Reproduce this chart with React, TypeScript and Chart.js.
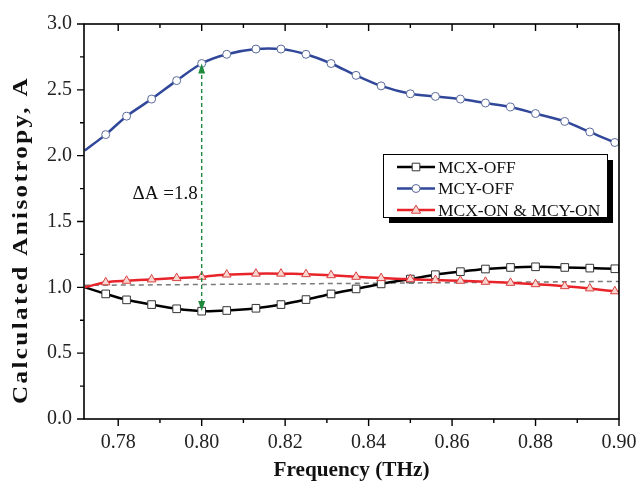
import React, { useEffect, useRef } from "react";
import { Chart, registerables } from "chart.js";

Chart.register(...registerables);

// ---- data ----
const freq = [0.772, 0.777, 0.782, 0.788, 0.794, 0.800, 0.806, 0.813, 0.819, 0.825, 0.831, 0.837, 0.843, 0.850, 0.856, 0.862, 0.868, 0.874, 0.880, 0.887, 0.893, 0.899, 0.900];
const mcxOff = [1.0, 0.95, 0.905, 0.869, 0.837, 0.819, 0.824, 0.841, 0.869, 0.907, 0.95, 0.988, 1.026, 1.063, 1.096, 1.119, 1.139, 1.151, 1.156, 1.151, 1.146, 1.141, 1.14];
const mcyOff = [2.04, 2.16, 2.3, 2.43, 2.57, 2.7, 2.77, 2.81, 2.81, 2.77, 2.7, 2.61, 2.53, 2.47, 2.45, 2.43, 2.4, 2.37, 2.32, 2.26, 2.18, 2.1, 2.09];
const mcOn = [1.0, 1.038, 1.05, 1.06, 1.07, 1.08, 1.097, 1.104, 1.104, 1.1, 1.092, 1.08, 1.07, 1.062, 1.055, 1.05, 1.042, 1.034, 1.024, 1.009, 0.992, 0.97, 0.965];
const refFreq = [0.772, 0.9];
const refVal = [1.015, 1.045];
const seriesLabels = ["MCX-OFF", "MCY-OFF", "MCX-ON & MCY-ON"];
const xMajorTicks = [0.78, 0.8, 0.82, 0.84, 0.86, 0.88, 0.9];
const xMinorTicks = [0.79, 0.81, 0.83, 0.85, 0.87, 0.89];
const yMajorTicks = [0, 0.5, 1.0, 1.5, 2.0, 2.5, 3.0];
const yMinorTicks = [0.25, 0.75, 1.25, 1.75, 2.25, 2.75];
const arrowFreq = 0.8;
const arrowFrom = 0.82;
const arrowTo = 2.7;
const arrowLabel = "\u0394A =1.8";
const arrowLabelY = 1.71;

const X_MIN = 0.7718;
const X_MAX = 0.9;
const SERIF = "'Liberation Serif', 'Times New Roman', serif";

const BLACK = "#000000";
const BLUE = "#31479a";
const RED = "#e8242a";
const GREEN = "#1f8a3c";

function drawMarker(ctx: CanvasRenderingContext2D, style: string, x: number, y: number, stroke: string, fill: string) {
  ctx.save();
  ctx.lineWidth = 1;
  ctx.strokeStyle = stroke;
  ctx.fillStyle = fill;
  ctx.beginPath();
  if (style === "rect") {
    ctx.rect(x - 3.8, y - 3.8, 7.6, 7.6);
  } else if (style === "circle") {
    ctx.arc(x, y, 4, 0, Math.PI * 2);
  } else {
    ctx.moveTo(x, y - 5);
    ctx.lineTo(x + 4.6, y + 3.2);
    ctx.lineTo(x - 4.6, y + 3.2);
    ctx.closePath();
  }
  ctx.fill();
  ctx.stroke();
  ctx.restore();
}

function stretchedText(ctx: CanvasRenderingContext2D, text: string, x: number, y: number, targetWidth: number, rotate: boolean) {
  ctx.save();
  ctx.translate(x, y);
  if (rotate) ctx.rotate(-Math.PI / 2);
  const w = ctx.measureText(text).width;
  ctx.scale(targetWidth / w, 1);
  ctx.textAlign = "center";
  ctx.textBaseline = "middle";
  ctx.fillText(text, 0, 0);
  ctx.restore();
}

const framePlugin = {
  id: "frameAndDecor",
  afterDraw(chart: any) {
    const ctx: CanvasRenderingContext2D = chart.ctx;
    const { left, right, top, bottom } = chart.chartArea;
    const xs = chart.scales.x;
    const ys = chart.scales.y;
    ctx.save();
    // frame
    ctx.strokeStyle = "#000";
    ctx.lineWidth = 1.6;
    ctx.strokeRect(left, top, right - left, bottom - top);
    ctx.lineWidth = 1.4;
    ctx.beginPath();
    xMajorTicks.forEach((v) => {
      const px = xs.getPixelForValue(v);
      ctx.moveTo(px, bottom);
      ctx.lineTo(px, bottom + 7);
      ctx.moveTo(px, top);
      ctx.lineTo(px, top + 7);
    });
    xMinorTicks.forEach((v) => {
      const px = xs.getPixelForValue(v);
      ctx.moveTo(px, bottom);
      ctx.lineTo(px, bottom + 4);
      ctx.moveTo(px, top);
      ctx.lineTo(px, top + 4);
    });
    yMajorTicks.forEach((v) => {
      const py = ys.getPixelForValue(v);
      ctx.moveTo(left - 7, py);
      ctx.lineTo(left, py);
    });
    yMinorTicks.forEach((v) => {
      const py = ys.getPixelForValue(v);
      ctx.moveTo(left - 4, py);
      ctx.lineTo(left, py);
    });
    ctx.stroke();

    // axis titles
    ctx.fillStyle = "#111";
    ctx.font = `bold 21px ${SERIF}`;
    (ctx as any).letterSpacing = "2px";
    stretchedText(ctx, "Calculated Anisotropy, A", 22, 240, 328, true);
    (ctx as any).letterSpacing = "0px";
    ctx.font = `bold 20px ${SERIF}`;
    stretchedText(ctx, "Frequency (THz)", (left + right) / 2, 471, 156, false);

    // annotation arrow
    const ax = xs.getPixelForValue(arrowFreq);
    const y1 = ys.getPixelForValue(arrowFrom);
    const y2 = ys.getPixelForValue(arrowTo);
    ctx.strokeStyle = GREEN;
    ctx.fillStyle = GREEN;
    ctx.lineWidth = 1.4;
    ctx.setLineDash([4, 3]);
    ctx.beginPath();
    ctx.moveTo(ax, y1 - 8);
    ctx.lineTo(ax, y2 + 8);
    ctx.stroke();
    ctx.setLineDash([]);
    ctx.beginPath();
    ctx.moveTo(ax, y2);
    ctx.lineTo(ax + 3.5, y2 + 10);
    ctx.lineTo(ax - 3.5, y2 + 10);
    ctx.closePath();
    ctx.fill();
    ctx.beginPath();
    ctx.moveTo(ax, y1);
    ctx.lineTo(ax + 3.5, y1 - 10);
    ctx.lineTo(ax - 3.5, y1 - 10);
    ctx.closePath();
    ctx.fill();
    ctx.fillStyle = "#111";
    ctx.font = `19px ${SERIF}`;
    ctx.textAlign = "right";
    ctx.textBaseline = "middle";
    ctx.fillText(arrowLabel, ax - 4, ys.getPixelForValue(arrowLabelY));

    // legend
    const lx = 383, ly = 154, lw = 224, lh = 63;
    ctx.fillStyle = "#000";
    ctx.fillRect(lx + 6, ly + 6, lw, lh);
    ctx.fillStyle = "#fff";
    ctx.fillRect(lx, ly, lw, lh);
    ctx.strokeStyle = "#000";
    ctx.lineWidth = 1;
    ctx.strokeRect(lx + 0.5, ly + 0.5, lw, lh);
    const datasets = chart.data.datasets.slice(0, 3);
    datasets.forEach((ds: any, i: number) => {
      const cy = ly + 13 + i * 21.5;
      ctx.strokeStyle = ds.borderColor;
      ctx.lineWidth = 2.5;
      ctx.beginPath();
      ctx.moveTo(lx + 14, cy);
      ctx.lineTo(lx + 52, cy);
      ctx.stroke();
      drawMarker(ctx, ds.pointStyle, lx + 33, cy, ds.pointBorderColor, ds.pointBackgroundColor);
      ctx.fillStyle = "#111";
      ctx.font = `17.5px ${SERIF}`;
      ctx.textAlign = "left";
      ctx.textBaseline = "middle";
      ctx.fillText(ds.label, lx + 55, cy + 1);
    });
    ctx.restore();
  },
};

const radiusFn = (r: number) => (c: any) => (c.dataIndex === 0 || c.dataIndex === freq.length - 1 ? 0 : r);

export default function App() {
  const ref = useRef<HTMLCanvasElement | null>(null);
  useEffect(() => {
    if (!ref.current) return;
    const pts = (vals: number[]) => freq.map((f, i) => ({ x: f, y: vals[i] }));
    const chart = new Chart(ref.current, {
      type: "line",
      data: {
        datasets: [
          {
            label: seriesLabels[0],
            data: pts(mcxOff),
            borderColor: BLACK,
            borderWidth: 2.5,
            pointStyle: "rect",
            pointRadius: radiusFn(5.4),
            pointBackgroundColor: "#ffffff",
            pointBorderColor: "#333333",
            pointBorderWidth: 1,
            tension: 0.3,
            order: 1,
          },
          {
            label: seriesLabels[1],
            data: pts(mcyOff),
            borderColor: BLUE,
            borderWidth: 2.5,
            pointStyle: "circle",
            pointRadius: radiusFn(4),
            pointBackgroundColor: "#ffffff",
            pointBorderColor: "#5a6a9a",
            pointBorderWidth: 1,
            tension: 0.3,
            order: 2,
          },
          {
            label: seriesLabels[2],
            data: pts(mcOn),
            borderColor: RED,
            borderWidth: 2.5,
            pointStyle: "triangle",
            pointRadius: radiusFn(5),
            pointBackgroundColor: "#f8d6cf",
            pointBorderColor: "#d84040",
            pointBorderWidth: 1,
            tension: 0.3,
            order: 0,
          },
          {
            label: "ref",
            data: refFreq.map((f, i) => ({ x: f, y: refVal[i] })),
            borderColor: "#7a7a7a",
            borderWidth: 1.5,
            borderDash: [5, 4],
            pointRadius: 0,
            order: 3,
          },
        ],
      },
      options: {
        animation: false,
        responsive: false,
        maintainAspectRatio: false,
        layout: { padding: { top: 22, right: 19, left: 0, bottom: 0 } },
        plugins: { legend: { display: false }, tooltip: { enabled: false } },
        scales: {
          x: {
            type: "linear",
            min: X_MIN,
            max: X_MAX,
            afterFit: (s: any) => {
              s.height = 66;
              s.paddingLeft = 0;
              s.paddingRight = 0;
            },
            grid: { display: false, drawTicks: false },
            border: { display: false },
            ticks: {
              stepSize: 0.02,
              includeBounds: false,
              padding: 12,
              maxRotation: 0,
              autoSkip: false,
              color: "#222",
              font: { family: SERIF, size: 20 },
              callback: (v: any) => Number(v).toFixed(2),
            },
          },
          y: {
            type: "linear",
            min: 0,
            max: 3,
            afterFit: (s: any) => {
              s.width = 84;
            },
            grid: { display: false, drawTicks: false },
            border: { display: false },
            ticks: {
              stepSize: 0.5,
              padding: 12,
              color: "#222",
              font: { family: SERIF, size: 20 },
              callback: (v: any) => Number(v).toFixed(1),
            },
          },
        },
      },
      plugins: [framePlugin],
    });
    return () => chart.destroy();
  }, []);
  return (
    <canvas
      ref={ref}
      width={638}
      height={485}
      style={{ position: "fixed", left: 0, top: 0, width: 638, height: 485, display: "block", background: "#fff" }}
    />
  );
}
